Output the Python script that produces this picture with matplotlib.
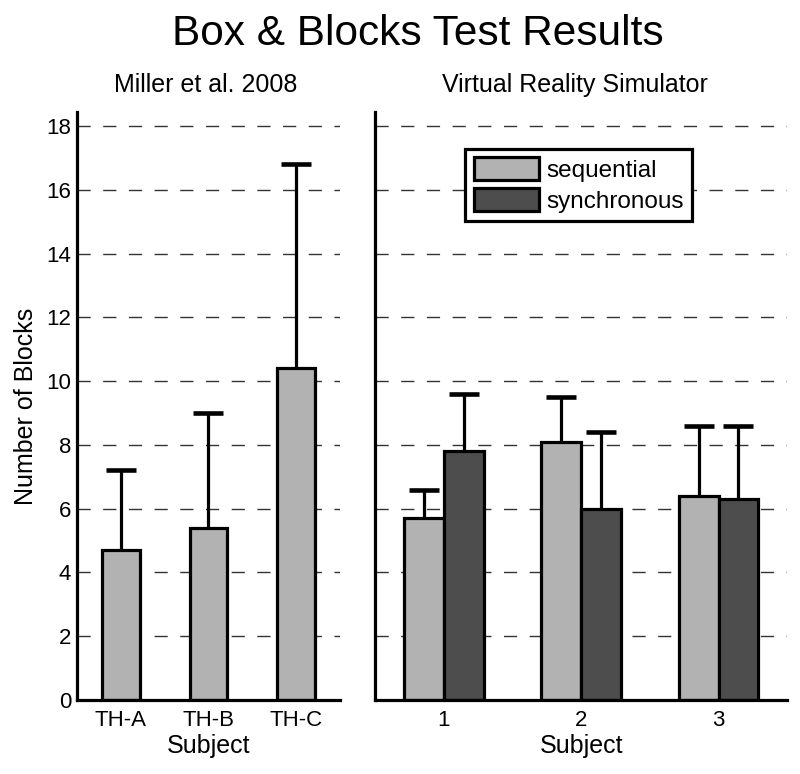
import matplotlib.pyplot as plt
import numpy as np

plt.rcParams['font.family'] = ['Liberation Sans', 'DejaVu Sans']

# Miller et al. 2008
miller_labels = ['TH-A', 'TH-B', 'TH-C']
miller_mean = [4.7, 5.4, 10.4]
miller_top = [7.2, 9.0, 16.8]

# Virtual Reality Simulator
vr_labels = ['1', '2', '3']
seq_mean = [5.7, 8.1, 6.4]
seq_top = [6.6, 9.5, 8.6]
syn_mean = [7.8, 6.0, 6.3]
syn_top = [9.6, 8.4, 8.6]

light = '#b2b2b2'
dark = '#4d4d4d'
lw = 2.3

fig = plt.figure(figsize=(8, 7.74), dpi=100)
ax1 = fig.add_axes([0.096, 0.0956, 0.329, 0.76])
ax2 = fig.add_axes([0.469, 0.0956, 0.515, 0.76])

err_kw = dict(ecolor='black', elinewidth=lw, capsize=11, capthick=lw + 1)


def style(ax):
    ax.set_ylim(0, 18.45)
    ax.set_yticks(np.arange(0, 19, 2))
    for s in ['top', 'right']:
        ax.spines[s].set_visible(False)
    for s in ['left', 'bottom']:
        ax.spines[s].set_linewidth(lw)
    ax.tick_params(length=0, labelsize=16, pad=4)
    ax.tick_params(axis='x', pad=7)
    ax.set_axisbelow(True)
    ax.yaxis.grid(True, color='#333333', linewidth=1, dashes=(9.5, 9))


def up_err(mean, top):
    return [np.zeros(len(mean)), np.array(top) - np.array(mean)]


def hide_low_caps(bars):
    # only the upper whisker is drawn in the original
    caps = bars.errorbar.lines[1]
    caps[0].set_visible(False)


x1 = np.arange(1, 4)
b = ax1.bar(x1, miller_mean, width=0.43, color=light, edgecolor='black', linewidth=lw,
            yerr=up_err(miller_mean, miller_top), error_kw=err_kw)
hide_low_caps(b)
style(ax1)
ax1.set_xlim(0.5, 3.5)
ax1.set_xticks(x1)
ax1.set_xticklabels(miller_labels)
ax1.set_xlabel('Subject', fontsize=18, labelpad=2)
ax1.set_ylabel('Number of Blocks', fontsize=18, labelpad=6)
ax1.set_title('Miller et al. 2008', fontsize=18, pad=14, x=0.49)

x2 = np.arange(1, 4)
w = 0.29
b = ax2.bar(x2 - w / 2, seq_mean, width=w, color=light, edgecolor='black', linewidth=lw,
            yerr=up_err(seq_mean, seq_top), label='sequential', error_kw=err_kw)
hide_low_caps(b)
b = ax2.bar(x2 + w / 2, syn_mean, width=w, color=dark, edgecolor='black', linewidth=lw,
            yerr=up_err(syn_mean, syn_top), label='synchronous', error_kw=err_kw)
hide_low_caps(b)
style(ax2)
ax2.set_xlim(0.5, 3.5)
ax2.set_xticks(x2)
ax2.set_xticklabels(vr_labels)
ax2.set_yticklabels([])
ax2.set_xlabel('Subject', fontsize=18, labelpad=2)
ax2.set_title('Virtual Reality Simulator', fontsize=18, pad=14, x=0.485)

leg = ax2.legend(loc='upper left', bbox_to_anchor=(0.218, 0.937), fontsize=17.5,
                 fancybox=False, framealpha=1, edgecolor='black',
                 handlelength=2.7, handleheight=1.05, handletextpad=0.3,
                 borderpad=0.35, labelspacing=0.25, borderaxespad=0)
leg.get_frame().set_linewidth(lw)

fig.suptitle('Box & Blocks Test Results', fontsize=30.5, x=0.522, y=0.982)

fig.savefig('out.png', dpi=100)
